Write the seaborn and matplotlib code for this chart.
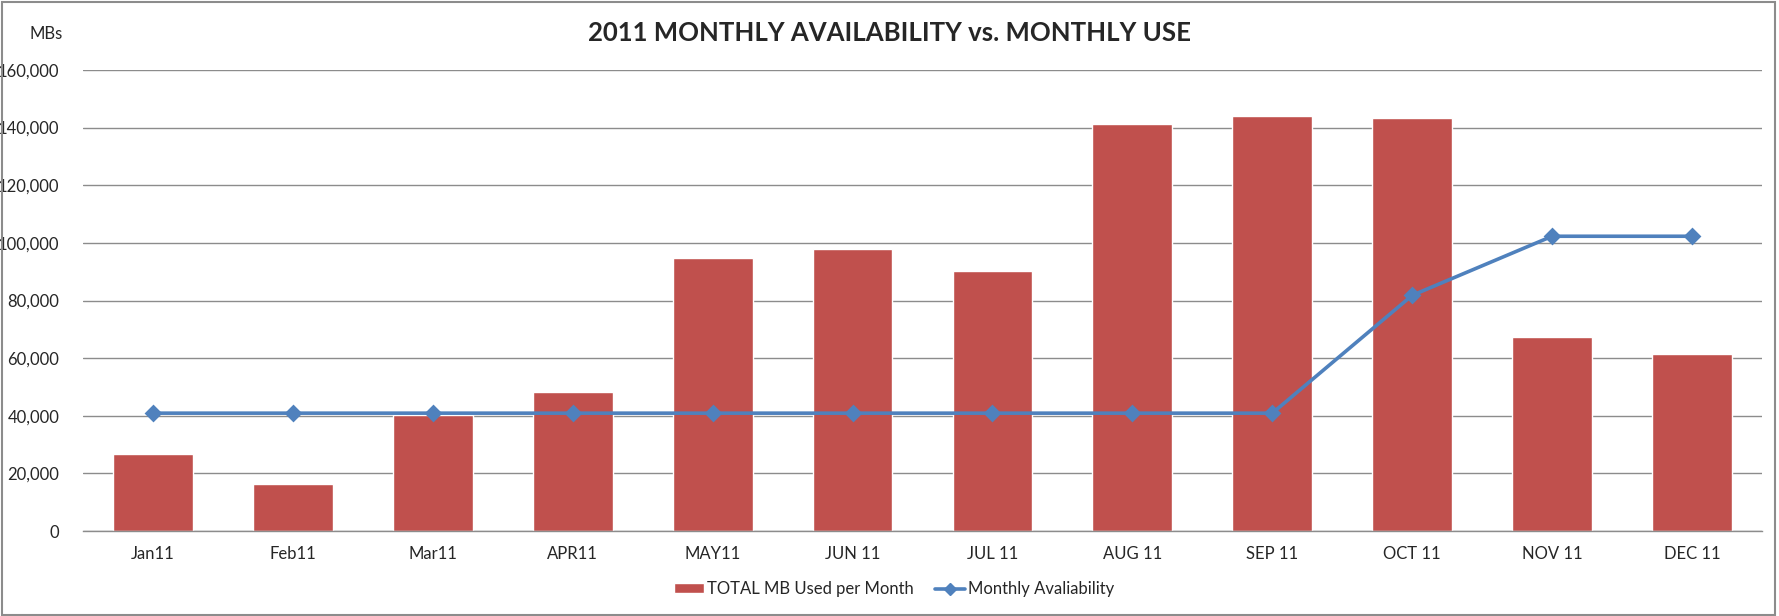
import pandas as pd
import matplotlib.pyplot as plt
import seaborn as sns
from matplotlib.patches import Rectangle
from matplotlib.lines import Line2D
from matplotlib.ticker import FuncFormatter

# ---- Dữ liệu ----
MONTHS = ["Jan11", "Feb11", "Mar11", "APR11", "MAY11", "JUN 11",
          "JUL 11", "AUG 11", "SEP 11", "OCT 11", "NOV 11", "DEC 11"]
MB_USED = [26700, 16200, 40400, 48300, 94600, 97800,
           90400, 141300, 144100, 143500, 67400, 61300]
AVAILABILITY = [40900, 40900, 40900, 40900, 40900, 40900,
                40900, 40900, 40900, 81800, 102300, 102300]

BAR_COLOR = "#C0504D"
LINE_COLOR = "#4F81BD"
GRID_COLOR = "#8C8C8C"

df = pd.DataFrame({"Month": MONTHS, "Used": MB_USED, "Avail": AVAILABILITY})

sns.set_theme(style="white")
plt.rcParams['font.family'] = ['Lato', 'DejaVu Sans']

fig = plt.figure(figsize=(17.79, 6.16), dpi=100)
ax = fig.add_axes([83 / 1779, 1 - 531 / 616, (1762 - 83) / 1779, (531 - 70) / 616])

sns.barplot(data=df, x="Month", y="Used", color=BAR_COLOR, saturation=1,
            width=0.57, ax=ax, zorder=2)
sns.pointplot(data=df, x="Month", y="Avail", color=LINE_COLOR, markers="D",
              markersize=7, linewidth=2.6, ax=ax, zorder=3)

ax.set_ylim(0, 160000)
ax.set_xlim(-0.5, len(MONTHS) - 0.5)
ax.set_yticks(range(0, 160001, 20000))
ax.yaxis.set_major_formatter(FuncFormatter(lambda v, p: f"{int(v):,}"))
ax.grid(axis="y", color=GRID_COLOR, linewidth=1.0, zorder=0)
ax.set_axisbelow(True)
for side in ["top", "right", "left"]:
    ax.spines[side].set_visible(False)
ax.spines["bottom"].set_color(GRID_COLOR)
ax.spines["bottom"].set_linewidth(1.0)
ax.tick_params(axis="both", length=0, labelsize=12, colors="#262626")
ax.tick_params(axis="y", pad=17)
ax.tick_params(axis="x", pad=11)
ax.set_xlabel("")
ax.set_ylabel("")

# Tiêu đề và nhãn trục
fig.text(0.5, 1 - 33 / 616, "2011 MONTHLY AVAILABILITY vs. MONTHLY USE",
         ha="center", va="center", fontsize=18.5, fontweight="bold")
fig.text(46 / 1779, 1 - 34 / 616, "MBs", ha="center", va="center", fontsize=12)

# Chú thích
handles = [
    Rectangle((0, 0), 1, 1, facecolor=BAR_COLOR),
    Line2D([0], [0], color=LINE_COLOR, linewidth=2.6, marker="D", markersize=6),
]
fig.legend(handles, ["TOTAL MB Used per Month", "Monthly Avaliability"],
           loc="center", bbox_to_anchor=(894 / 1779, 1 - 589 / 616), ncol=2,
           frameon=False, fontsize=12, handlelength=1.8, handleheight=0.5,
           handletextpad=0.15, columnspacing=1.3)

# Khung viền
fig.add_artist(Rectangle((0.001, 0.002), 0.997, 0.995, transform=fig.transFigure,
                         fill=False, edgecolor="#8C8C8C", linewidth=1.5))

fig.savefig("out.png", dpi=100)
